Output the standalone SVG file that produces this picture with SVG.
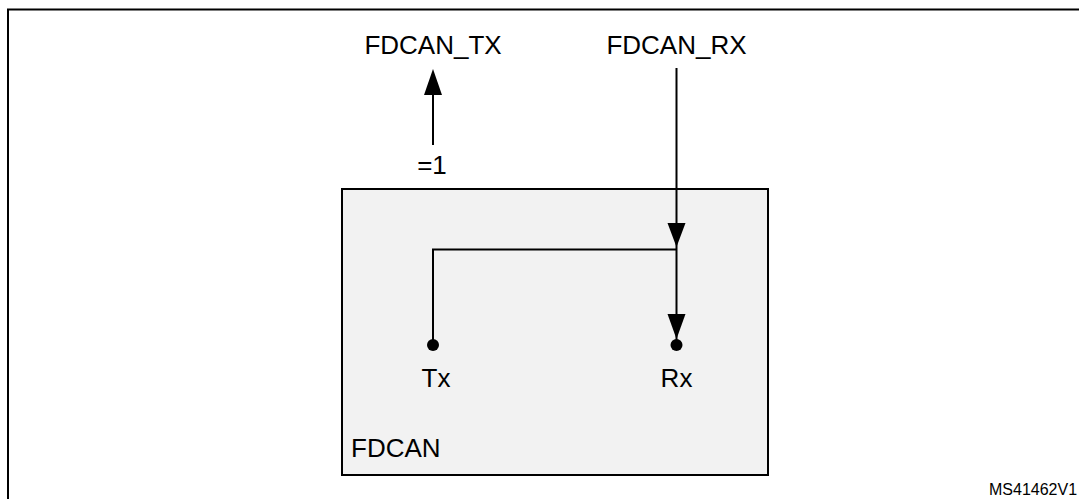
<svg xmlns="http://www.w3.org/2000/svg" width="1079" height="499" viewBox="0 0 1079 499">
  <style>
    text { font-family: "Liberation Sans", Arial, sans-serif; fill: #000; }
    .lbl { font-size: 26px; }
    .mid { text-anchor: middle; }
    .wire { fill: none; stroke: #000; stroke-width: 2; }
    .head { fill: #000; }
  </style>
  <rect id="frame" x="8" y="9.5" width="1090" height="510" fill="#fff" stroke="#000" stroke-width="2"/>

  <g id="fdcan">
    <rect x="342" y="189" width="426" height="286" fill="#f2f2f2" stroke="#000" stroke-width="2"/>
    <text class="lbl" x="351" y="457">FDCAN</text>
  </g>

  <g id="fdcan_tx">
    <text class="lbl mid" x="433" y="54">FDCAN_TX</text>
  </g>
  <g id="fdcan_rx">
    <text class="lbl mid" x="676.5" y="54">FDCAN_RX</text>
  </g>
  <g id="eq1">
    <text class="lbl mid" x="432" y="174">=1</text>
  </g>
  <g id="tx_pin">
    <circle cx="433" cy="345" r="6" fill="#000"/>
    <text class="lbl mid" x="436" y="387">Tx</text>
  </g>
  <g id="rx_pin">
    <circle cx="676.5" cy="345" r="6" fill="#000"/>
    <text class="lbl mid" x="676.5" y="387">Rx</text>
  </g>

  <g id="connectors">
    <line class="wire" x1="433" y1="145" x2="433" y2="94"/>
    <path class="head" d="M424,95 L433,69 L442,95 Z"/>
    <line class="wire" x1="676.5" y1="68" x2="676.5" y2="345"/>
    <path class="head" d="M667.5,223 L676.5,247 L685.5,223 Z"/>
    <path class="head" d="M667.5,314 L676.5,339 L685.5,314 Z"/>
    <polyline class="wire" points="433,345 433,249.5 676.5,249.5"/>
  </g>

  <text x="989" y="495" font-size="16px">MS41462V1</text>
</svg>
